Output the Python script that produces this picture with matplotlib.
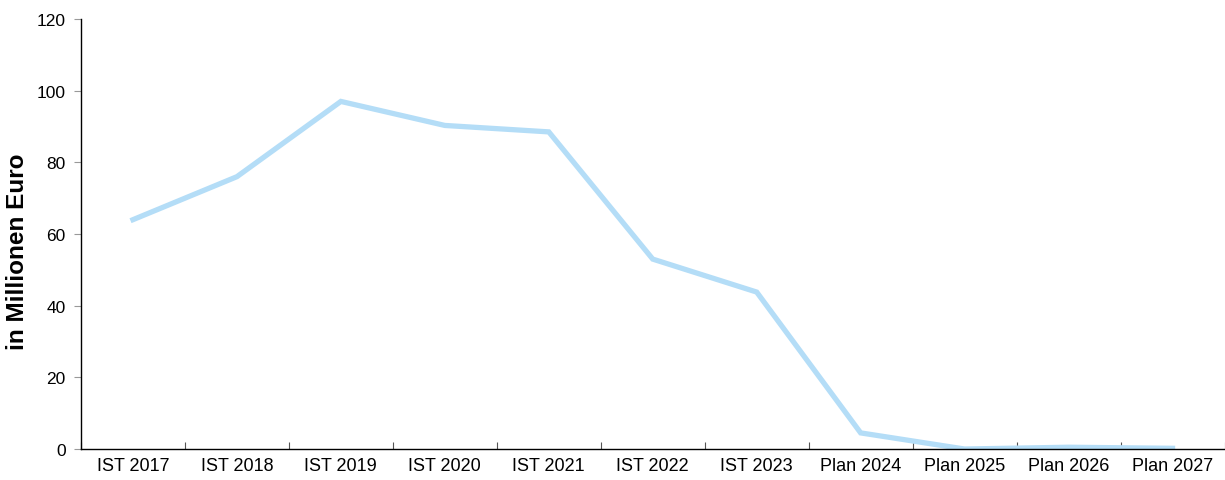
import matplotlib.pyplot as plt
import numpy as np

plt.rcParams['font.family'] = ['Liberation Sans', 'DejaVu Sans']

# data
categories = ["IST 2017", "IST 2018", "IST 2019", "IST 2020", "IST 2021", "IST 2022",
              "IST 2023", "Plan 2024", "Plan 2025", "Plan 2026", "Plan 2027"]
values = [64, 76, 97, 90.3, 88.5, 53, 43.8, 4.5, 0, 0.5, 0.2]
y_ticks = [0, 20, 40, 60, 80, 100, 120]

fig = plt.figure(figsize=(12.25, 4.81), dpi=100)
ax = fig.add_axes([0.0661, 0.0644, 0.9335, 0.894])

x = np.arange(len(categories))
ax.plot(x, values, color='#B4DDF7', linewidth=3.8, solid_joinstyle='miter')

ax.set_xlim(-0.5, len(categories) - 0.5)
ax.set_ylim(0, 120)
ax.set_yticks(y_ticks)
ax.tick_params(axis='y', direction='out', length=5, color='#999999', labelsize=12.5, pad=6)

# category labels centered, tick marks at the boundaries
ax.set_xticks(x)
ax.set_xticklabels(categories, fontsize=13)
ax.tick_params(axis='x', which='major', length=0, pad=6)
ax.set_xticks(np.arange(len(categories) + 1) - 0.5, minor=True)
ax.tick_params(axis='x', which='minor', direction='in', length=5, color='#555555', width=0.8)

for s in ['top', 'right']:
    ax.spines[s].set_visible(False)
ax.spines['left'].set_linewidth(1.0)
ax.spines['bottom'].set_linewidth(1.0)

ax.set_ylabel("in Millionen Euro", fontsize=17.5, fontweight='bold')
ax.yaxis.set_label_coords(-0.0455, 0.46)

fig.savefig("out.png", dpi=100)
